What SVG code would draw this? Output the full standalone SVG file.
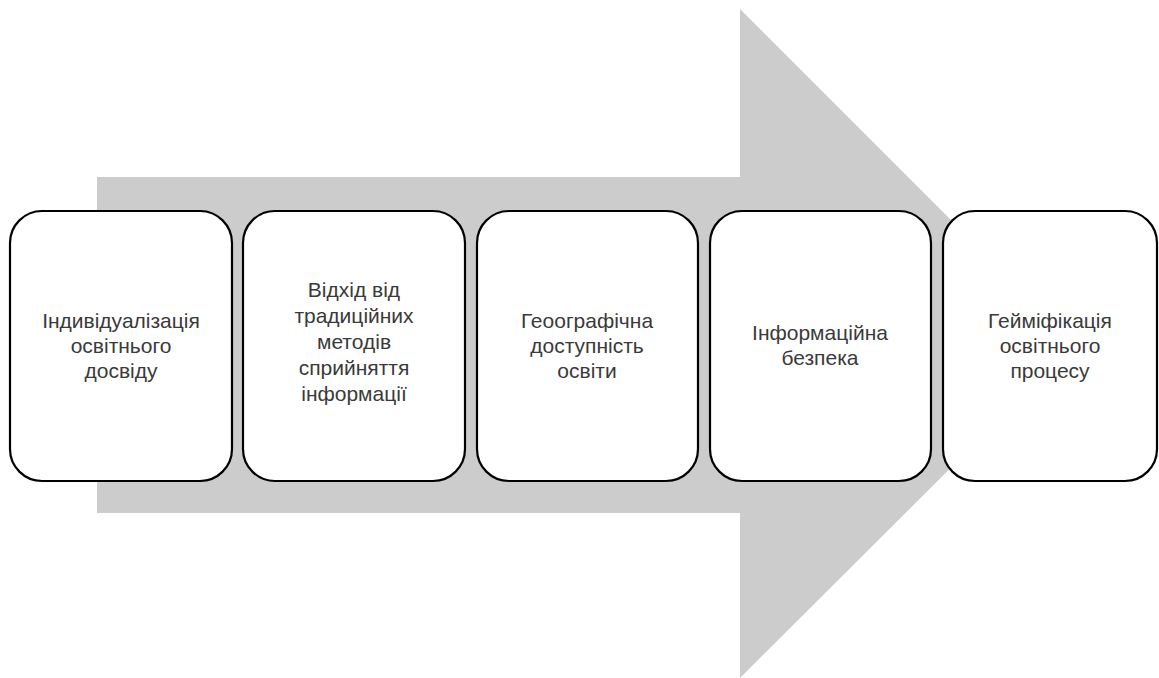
<svg xmlns="http://www.w3.org/2000/svg" width="1159" height="678" viewBox="0 0 1159 678">
<style>
.node rect{fill:#fff;stroke:#000;stroke-width:2.2}
.node text{font-family:"Liberation Sans",Arial,sans-serif;font-size:21px;fill:#3a3a3a;text-anchor:middle}
</style>
<rect width="1159" height="678" fill="#fff"/>
<g id="connectors">
<polygon id="arrow" points="97,177 740,177 740,9 1075,344 740,678 740,513 97,513" fill="#cccccc"/>
</g>
<g id="n1" class="node">
<rect x="10" y="211" width="222" height="270" rx="32"/>
<text x="121" y="328">Індивідуалізація</text>
<text x="121" y="353">освітнього</text>
<text x="121" y="378">досвіду</text>
</g>
<g id="n2" class="node">
<rect x="243" y="211" width="222" height="270" rx="32"/>
<text x="354" y="297">Відхід від</text>
<text x="354" y="323">традиційних</text>
<text x="354" y="349">методів</text>
<text x="354" y="375">сприйняття</text>
<text x="354" y="401">інформації</text>
</g>
<g id="n3" class="node">
<rect x="477" y="211" width="221" height="270" rx="32"/>
<text x="587" y="328">Геоографічна</text>
<text x="587" y="353">доступність</text>
<text x="587" y="378">освіти</text>
</g>
<g id="n4" class="node">
<rect x="710" y="211" width="221" height="270" rx="32"/>
<text x="820" y="340">Інформаційна</text>
<text x="820" y="365">безпека</text>
</g>
<g id="n5" class="node">
<rect x="943" y="211" width="214" height="270" rx="32"/>
<text x="1050" y="328">Гейміфікація</text>
<text x="1050" y="353">освітнього</text>
<text x="1050" y="378">процесу</text>
</g>
</svg>
